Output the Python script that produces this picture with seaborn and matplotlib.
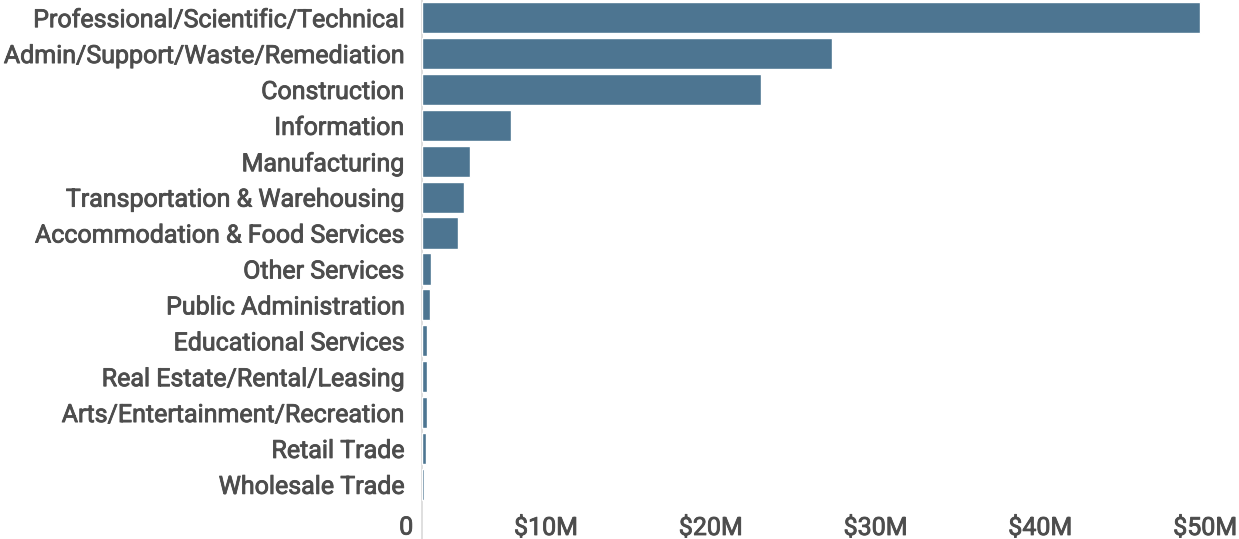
import matplotlib
matplotlib.use("Agg")
import matplotlib.pyplot as plt
import matplotlib.patheffects as pe
from matplotlib.transforms import ScaledTranslation
from matplotlib.ticker import FuncFormatter
import seaborn as sns
import pandas as pd

# Spending by industry sector, in millions of dollars
industries = [
    "Professional/Scientific/Technical",
    "Admin/Support/Waste/Remediation",
    "Construction",
    "Information",
    "Manufacturing",
    "Transportation & Warehousing",
    "Accommodation & Food Services",
    "Other Services",
    "Public Administration",
    "Educational Services",
    "Real Estate/Rental/Leasing",
    "Arts/Entertainment/Recreation",
    "Retail Trade",
    "Wholesale Trade",
]
amounts_musd = [47.2, 24.9, 20.6, 5.42, 2.95, 2.59, 2.18, 0.56, 0.52, 0.34, 0.30, 0.30, 0.29, 0.16]
x_ticks = [0, 10, 20, 30, 40, 50]

df = pd.DataFrame({"industry": industries, "amount": amounts_musd})

sns.set_theme(style="white")
plt.rcParams["font.family"] = ["Roboto", "DejaVu Sans"]

TEXT = "#4d4d4d"
W, H, DPI = 1239, 539, 100
fig = plt.figure(figsize=(W / DPI, H / DPI), dpi=DPI)

# axes geometry in pixels
left_px, right_px = 421.7, 1245.7
top_px, bottom_px = -0.3, 502.3
ax = fig.add_axes([left_px / W, 1 - bottom_px / H,
                   (right_px - left_px) / W, (bottom_px - top_px) / H])

sns.barplot(data=df, x="amount", y="industry", orient="h", color="#4d7591",
            width=0.87, edgecolor="white", linewidth=1, saturation=1, ax=ax)

ax.set_xlim(0, 50)
ax.set_ylim(13.5, -0.5)
ax.set_xlabel("")
ax.set_ylabel("")

for s in ["top", "right", "bottom", "left"]:
    ax.spines[s].set_visible(False)
# zero baseline running down through the tick label row
ax.axvline(0, ymin=-0.08, ymax=1, color="#d9d9d9", linewidth=1.2, clip_on=False, zorder=0)

ax.set_xticks(x_ticks)
ax.xaxis.set_major_formatter(FuncFormatter(lambda v, p: "0" if v == 0 else f"${v:.0f}M"))
ax.tick_params(axis="x", length=0, pad=9.5, labelsize=18, labelcolor=TEXT)
ax.tick_params(axis="y", length=0, pad=12.5, labelsize=18, labelcolor=TEXT)

# slightly heavier strokes for the labels
heavy = [pe.withStroke(linewidth=0.6, foreground=TEXT)]
for lab in ax.get_yticklabels():
    lab.set_path_effects(heavy)

shift = ScaledTranslation(-8.5 / DPI, 0, fig.dpi_scale_trans)
for lab in ax.get_xticklabels():
    lab.set_horizontalalignment("right")
    lab.set_transform(lab.get_transform() + shift)
    lab.set_path_effects(heavy)

fig.savefig("out.png", dpi=DPI)
